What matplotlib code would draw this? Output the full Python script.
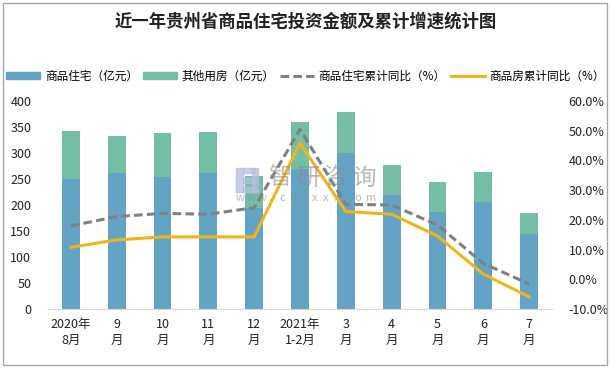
import matplotlib
matplotlib.use("Agg")
import matplotlib.pyplot as plt
from matplotlib.patches import Rectangle
from matplotlib.lines import Line2D
from matplotlib.patches import Patch
import numpy as np

plt.rcParams['font.family'] = ['Noto Sans CJK SC', 'DejaVu Sans']

categories = ["2020年\n8月", "9\n月", "10\n月", "11\n月", "12\n月", "2021年\n1-2月",
              "3\n月", "4\n月", "5\n月", "6\n月", "7\n月"]
residential = [250, 261, 254, 261, 195, 269, 300, 219, 187, 206, 144]
totals = [342, 332, 338, 340, 256, 359, 378, 277, 244, 263, 185]
other = [t - r for t, r in zip(totals, residential)]
res_yoy = [18.0, 21.1, 22.2, 21.9, 24.1, 50.4, 25.2, 25.0, 18.3, 5.4, -1.5]
all_yoy = [10.8, 13.3, 14.3, 14.3, 14.3, 45.7, 22.8, 21.9, 14.6, 1.8, -5.8]
left_ticks = [0, 50, 100, 150, 200, 250, 300, 350, 400]
right_ticks = [-10, 0, 10, 20, 30, 40, 50, 60]

c_blue = "#63A3C3"
c_green = "#75BEA6"
c_gray = "#808080"
c_yellow = "#F0B41C"

W, H = 611, 371
fig = plt.figure(figsize=(6.11, 3.71), dpi=100)
ax = fig.add_axes([48/W, 1-309.3/H, (552-48)/W, (309.3-100.7)/H])
x = np.arange(len(categories))
w = 0.39
ax.bar(x, residential, w, color=c_blue, zorder=2)
ax.bar(x, other, w, bottom=residential, color=c_green, zorder=2)
ax.set_xlim(-0.5, len(categories) - 0.5)
ax.set_ylim(0, 400)
ax.set_yticks(left_ticks)
ax.set_yticklabels([str(v) for v in left_ticks])
ax.set_xticks(x)
ax.set_xticklabels(categories, linespacing=1.35)
for s in ["top", "right", "left"]:
    ax.spines[s].set_visible(False)
ax.spines["bottom"].set_color("#D9D9D9")
ax.tick_params(axis="both", length=0, labelsize=9, colors="#222222")
ax.tick_params(axis="x", pad=6)
ax.tick_params(axis="y", pad=12)

# watermark (behind lines, above bars)
wm_color = "#8C8C8C"
for xs, ys, ws, hs in [(236, 168, 7, 24), (243, 168, 12, 5), (243, 178, 12, 5),
                       (243, 187, 12, 5), (252, 168, 6, 12), (252, 180, 6, 12)]:
    fig.patches.append(Rectangle((xs/W, 1-(ys+hs)/H), ws/W, hs/H, transform=fig.transFigure,
                                 color="#B4C0DC", alpha=0.75, zorder=2.5))
for i, ch in enumerate("智研咨询"):
    fig.text((268 + i*28)/W, 1-178/H, ch, fontsize=17, color=wm_color, alpha=0.6,
             ha="left", va="center", zorder=2.5)
for i, ch in enumerate("www.chyxx.com"):
    fig.text((236 + i*10.8)/W, 1-198/H, ch, fontsize=8, color=wm_color, alpha=0.6,
             ha="left", va="center", zorder=2.5)

ax2 = ax.twinx()
ax2.plot(x, res_yoy, color=c_gray, lw=2.2, dashes=(2.8, 1.4), zorder=3)
ax2.plot(x, all_yoy, color=c_yellow, lw=2.2, zorder=4)
ax2.set_ylim(-10, 60)
ax2.set_yticks(right_ticks)
ax2.set_yticklabels([f"{v:.1f}%" for v in right_ticks])
for s in ax2.spines.values():
    s.set_visible(False)
ax2.tick_params(axis="y", length=0, labelsize=9, colors="#222222", pad=12)

fig.text(0.5, 1-22/H, "近一年贵州省商品住宅投资金额及累计增速统计图",
         ha="center", va="center", fontsize=12.5, fontweight="bold", color="#222222")

handles = [Patch(color=c_blue), Patch(color=c_green),
           Line2D([], [], color=c_gray, lw=2.2, dashes=(2.8, 1.4)),
           Line2D([], [], color=c_yellow, lw=2.2)]
labels = ["商品住宅（亿元）", "其他用房（亿元）", "商品住宅累计同比（%）", "商品房累计同比（%）"]
fig.legend(handles, labels, loc="center", bbox_to_anchor=(0.5, 1-76/H), ncol=4,
           frameon=False, fontsize=8.4, handlelength=2.9, handleheight=0.55,
           columnspacing=0.45, handletextpad=0.4, borderpad=0, borderaxespad=0)

fig.patches.append(Rectangle((3/W, 6/H), 604/W, 362/H, transform=fig.transFigure,
                             fill=False, edgecolor="#A6A6A6", lw=1))

fig.savefig("out.png", dpi=100)
